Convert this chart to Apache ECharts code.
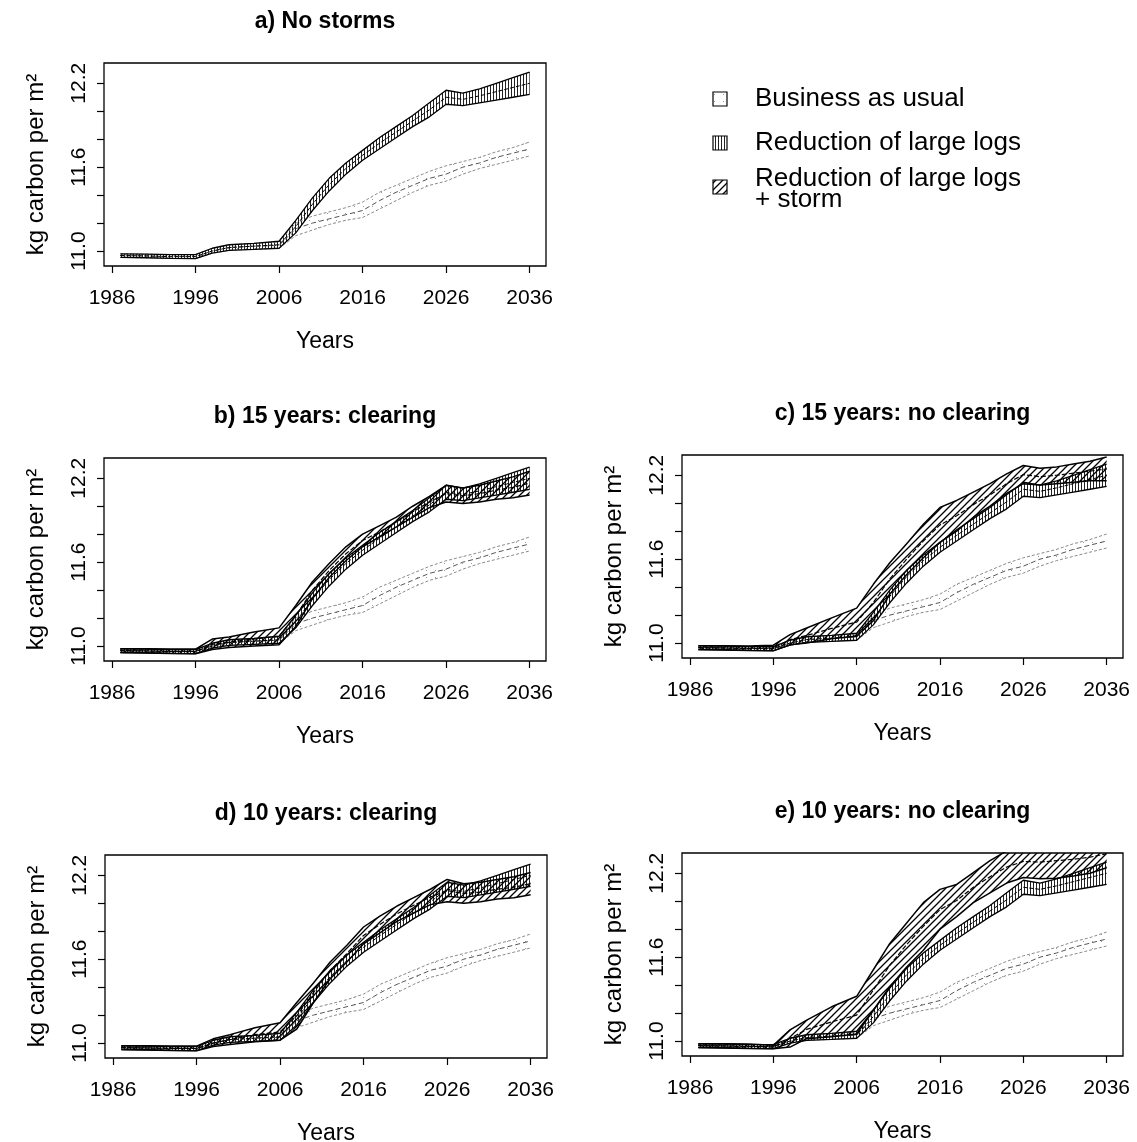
<!DOCTYPE html>
<html>
<head>
<meta charset="utf-8">
<script src="https://cdn.jsdelivr.net/npm/echarts@6/dist/echarts.min.js"></script>
<style>
  html, body { margin: 0; padding: 0; background: #fff; }
  #chart { width: 1137px; height: 1142px; }
</style>
</head>
<body>
<div id="chart"></div>
<script>
// Simulation years
const years = [1987, 1990, 1993, 1996, 1998, 2000, 2003, 2006, 2008, 2010, 2012, 2014, 2016, 2018, 2020, 2022, 2024, 2026, 2028, 2030, 2032, 2034, 2036];

// Business as usual (same in every panel)
const bauLow  = [10.955, 10.952, 10.948, 10.946, 10.985, 11.005, 11.012, 11.02, 11.11, 11.15, 11.19, 11.22, 11.24, 11.30, 11.36, 11.42, 11.47, 11.50, 11.55, 11.59, 11.62, 11.65, 11.68];
const bauHigh = [10.98, 10.978, 10.975, 10.975, 11.02, 11.045, 11.055, 11.065, 11.20, 11.25, 11.28, 11.31, 11.35, 11.42, 11.47, 11.52, 11.57, 11.61, 11.64, 11.67, 11.71, 11.74, 11.78];
const bauMid  = [10.968, 10.965, 10.96, 10.96, 11.0, 11.025, 11.035, 11.04, 11.16, 11.20, 11.23, 11.26, 11.29, 11.36, 11.42, 11.47, 11.52, 11.55, 11.60, 11.63, 11.67, 11.70, 11.73];

// Reduction of large logs, no storm
const rlLow  = [10.955, 10.952, 10.948, 10.946, 10.985, 11.005, 11.012, 11.02, 11.13, 11.29, 11.43, 11.55, 11.65, 11.73, 11.81, 11.89, 11.96, 12.05, 12.04, 12.06, 12.08, 12.10, 12.12];
const rlHigh = [10.98, 10.978, 10.975, 10.975, 11.02, 11.045, 11.055, 11.07, 11.22, 11.38, 11.52, 11.63, 11.72, 11.81, 11.89, 11.97, 12.06, 12.15, 12.13, 12.16, 12.20, 12.24, 12.28];
const rlMid  = [10.968, 10.965, 10.96, 10.96, 11.0, 11.025, 11.035, 11.045, 11.175, 11.335, 11.475, 11.59, 11.685, 11.77, 11.85, 11.93, 12.01, 12.10, 12.085, 12.11, 12.14, 12.17, 12.20];

// Reduction of large logs + storm, one set per storm scenario
const stormBLow  = [10.952, 10.95, 10.946, 10.944, 10.975, 10.99, 11.0, 11.01, 11.14, 11.34, 11.49, 11.61, 11.71, 11.78, 11.85, 11.92, 11.99, 12.03, 12.02, 12.03, 12.05, 12.06, 12.08];
const stormBHigh = [10.98, 10.98, 10.978, 10.978, 11.05, 11.065, 11.10, 11.13, 11.29, 11.46, 11.59, 11.71, 11.80, 11.86, 11.92, 12.00, 12.07, 12.15, 12.13, 12.15, 12.18, 12.21, 12.25];
const stormBMid  = [10.966, 10.965, 10.962, 10.961, 11.012, 11.028, 11.05, 11.07, 11.215, 11.40, 11.54, 11.66, 11.755, 11.815, 11.885, 11.96, 12.03, 12.09, 12.075, 12.09, 12.115, 12.135, 12.165];

const stormCLow  = [10.952, 10.95, 10.946, 10.944, 10.988, 11.0, 11.03, 11.05, 11.16, 11.35, 11.49, 11.61, 11.72, 11.80, 11.90, 11.98, 12.07, 12.14, 12.13, 12.14, 12.15, 12.16, 12.16];
const stormCHigh = [10.98, 10.98, 10.978, 10.985, 11.06, 11.108, 11.18, 11.25, 11.42, 11.576, 11.71, 11.85, 11.97, 12.02, 12.08, 12.14, 12.21, 12.27, 12.25, 12.26, 12.28, 12.30, 12.33];
const stormCMid  = [10.966, 10.965, 10.962, 10.964, 11.024, 11.054, 11.105, 11.15, 11.29, 11.46, 11.60, 11.73, 11.845, 11.91, 11.99, 12.06, 12.14, 12.205, 12.19, 12.20, 12.215, 12.23, 12.245];

const stormDLow  = [10.952, 10.95, 10.946, 10.944, 10.975, 10.99, 11.01, 11.02, 11.10, 11.29, 11.46, 11.58, 11.71, 11.79, 11.87, 11.93, 11.99, 12.01, 12.0, 12.01, 12.03, 12.04, 12.06];
const stormDHigh = [10.98, 10.98, 10.978, 10.978, 11.03, 11.06, 11.11, 11.145, 11.29, 11.43, 11.58, 11.70, 11.83, 11.91, 11.98, 12.04, 12.10, 12.17, 12.14, 12.15, 12.17, 12.19, 12.22];
const stormDMid  = [10.966, 10.965, 10.962, 10.961, 11.0, 11.025, 11.06, 11.08, 11.195, 11.36, 11.52, 11.64, 11.77, 11.85, 11.925, 11.985, 12.045, 12.09, 12.07, 12.08, 12.10, 12.115, 12.14];

const stormELow  = [10.952, 10.95, 10.946, 10.944, 10.957, 11.017, 11.03, 11.05, 11.22, 11.39, 11.53, 11.65, 11.80, 11.89, 11.99, 12.06, 12.13, 12.17, 12.16, 12.165, 12.18, 12.20, 12.24];
const stormEHigh = [10.98, 10.98, 10.978, 10.97, 11.08, 11.15, 11.245, 11.32, 11.51, 11.70, 11.845, 11.99, 12.085, 12.12, 12.205, 12.29, 12.36, 12.40, 12.40, 12.41, 12.42, 12.43, 12.44];
const stormEMid  = [10.966, 10.965, 10.962, 10.957, 11.018, 11.083, 11.137, 11.185, 11.365, 11.545, 11.69, 11.82, 11.94, 12.005, 12.10, 12.175, 12.245, 12.285, 12.28, 12.29, 12.30, 12.315, 12.34];

// Axis ticks and labels
const xTicks = [1986, 1996, 2006, 2016, 2026, 2036];
const yTicks = [11.0, 11.2, 11.4, 11.6, 11.8, 12.0, 12.2];
const yLabels = [11.0, 11.6, 12.2];

const panelTitles = ['a) No storms', 'b) 15 years: clearing', 'c) 15 years: no clearing', 'd) 10 years: clearing', 'e) 10 years: no clearing'];
const legendNames = ['Business as usual', 'Reduction of large logs', 'Reduction of large logs\n+ storm'];

const FONT = '"Liberation Sans", Arial, Helvetica, sans-serif';

// Hatching tiles used to fill the bands
function makeTile(kind) {
  const c = document.createElement('canvas');
  const ctx = c.getContext('2d');
  if (kind === 'vertical') {
    c.width = 3; c.height = 4;
    ctx.fillStyle = '#222';
    ctx.fillRect(1, 0, 1, 4);
  } else if (kind === 'diagonal') {
    const s = 7;
    c.width = s; c.height = s;
    ctx.strokeStyle = '#000';
    ctx.lineWidth = 1.3;
    ctx.beginPath();
    ctx.moveTo(0, s); ctx.lineTo(s, 0);
    ctx.moveTo(-1, 1); ctx.lineTo(1, -1);
    ctx.moveTo(s - 1, s + 1); ctx.lineTo(s + 1, s - 1);
    ctx.stroke();
  } else {
    c.width = 9; c.height = 7;
    ctx.fillStyle = '#9a9a9a';
    ctx.fillRect(3, 3, 1, 1);
  }
  return c;
}
const tiles = { bau: makeTile('dots'), rl: makeTile('vertical'), storm: makeTile('diagonal') };

// Plot boxes
const grids = [
  { left: 104, top: 63, width: 442, height: 203 },
  { left: 104, top: 458, width: 442, height: 203 },
  { left: 682, top: 455, width: 441, height: 203 },
  { left: 105, top: 855, width: 442, height: 203 },
  { left: 682, top: 853, width: 441, height: 203 }
];

const stormSets = [
  null,
  [stormBLow, stormBHigh, stormBMid],
  [stormCLow, stormCHigh, stormCMid],
  [stormDLow, stormDHigh, stormDMid],
  [stormELow, stormEHigh, stormEMid]
];

function bandSeries(idx, low, high, tile) {
  return {
    type: 'custom',
    xAxisIndex: idx, yAxisIndex: idx,
    clip: true, silent: true,
    data: years.map((y, i) => [y, low[i], high[i]]),
    renderItem: function (params, api) {
      if (params.dataIndex !== 0) return null;
      const pts = [];
      for (let i = 0; i < years.length; i++) pts.push(api.coord([years[i], high[i]]));
      for (let i = years.length - 1; i >= 0; i--) pts.push(api.coord([years[i], low[i]]));
      return { type: 'polygon', shape: { points: pts }, style: { fill: { image: tile, repeat: 'repeat' }, stroke: null } };
    }
  };
}

function lineSeries(idx, vals, color, width, type) {
  return {
    type: 'line', xAxisIndex: idx, yAxisIndex: idx,
    data: years.map((y, i) => [y, vals[i]]),
    symbol: 'none', silent: true, clip: true,
    lineStyle: { color: color, width: width, type: type },
    z: 3
  };
}

const xAxes = [], yAxes = [], series = [], graphics = [];

grids.forEach((g, idx) => {
  xAxes.push({
    gridIndex: idx, type: 'value', min: 1985.04, max: 2037.96,
    name: 'Years', nameLocation: 'middle', nameGap: 64,
    nameTextStyle: { fontFamily: FONT, fontSize: 23, color: '#000' },
    axisLine: { show: false },
    axisTick: { show: true, length: 7, customValues: xTicks, lineStyle: { color: '#000', width: 1.2 } },
    axisLabel: { customValues: xTicks, fontFamily: FONT, fontSize: 21, color: '#000', margin: 22, formatter: v => String(v) },
    splitLine: { show: false }
  });
  yAxes.push({
    gridIndex: idx, type: 'value', min: 10.893, max: 12.345,
    name: 'kg carbon per m²', nameLocation: 'middle', nameGap: 56, nameRotate: 90,
    nameTextStyle: { fontFamily: FONT, fontSize: 24, color: '#000' },
    axisLine: { show: false },
    axisTick: { show: true, length: 7, customValues: yTicks, lineStyle: { color: '#000', width: 1.2 } },
    axisLabel: { customValues: yLabels, rotate: 90, fontFamily: FONT, fontSize: 21, color: '#000', margin: 14, formatter: v => v.toFixed(1) },
    splitLine: { show: false }
  });

  // Business as usual
  series.push(bandSeries(idx, bauLow, bauHigh, tiles.bau));
  series.push(lineSeries(idx, bauLow, '#8a8a8a', 1, [3, 2]));
  series.push(lineSeries(idx, bauHigh, '#8a8a8a', 1, [3, 2]));
  series.push(lineSeries(idx, bauMid, '#555', 1, [5, 3]));

  // Reduction of large logs
  series.push(bandSeries(idx, rlLow, rlHigh, tiles.rl));
  series.push(lineSeries(idx, rlLow, '#000', 1.3, 'solid'));
  series.push(lineSeries(idx, rlHigh, '#000', 1.3, 'solid'));
  series.push(lineSeries(idx, rlMid, '#000', 1, [4, 2]));

  // Reduction of large logs + storm
  const st = stormSets[idx];
  if (st) {
    series.push(bandSeries(idx, st[0], st[1], tiles.storm));
    series.push(lineSeries(idx, st[0], '#000', 1.5, 'solid'));
    series.push(lineSeries(idx, st[1], '#000', 1.5, 'solid'));
    series.push(lineSeries(idx, st[2], '#000', 1.2, [5, 2]));
  }

  graphics.push({
    type: 'text', x: g.left + g.width / 2, y: g.top - 41,
    style: { text: panelTitles[idx], font: 'bold 23px ' + FONT, fill: '#000', textAlign: 'center', textVerticalAlign: 'middle' }
  });
});

// Legend
const legendRows = [
  { y: 99, tile: tiles.bau },
  { y: 143, tile: tiles.rl },
  { y: 187, tile: tiles.storm }
];
legendRows.forEach((r, i) => {
  graphics.push({
    type: 'rect', shape: { x: 713, y: r.y - 7, width: 14, height: 14 },
    style: { fill: { image: r.tile, repeat: 'repeat' }, stroke: '#000', lineWidth: 1.2 }
  });
  graphics.push({
    type: 'text', x: 755, y: r.y + (i === 2 ? 2 : 0),
    style: { text: legendNames[i], font: '26px ' + FONT, fill: '#000', textAlign: 'left', textVerticalAlign: 'middle', lineHeight: 21 }
  });
});

const chart = echarts.init(document.getElementById('chart'), null, { renderer: 'canvas' });
chart.setOption({
  backgroundColor: '#fff',
  animation: false,
  grid: grids.map(g => Object.assign({ show: true, borderColor: '#000', borderWidth: 1.3, backgroundColor: 'transparent', containLabel: false, outerBoundsMode: 'none' }, g)),
  xAxis: xAxes,
  yAxis: yAxes,
  series: series,
  graphic: graphics
});
</script>
</body>
</html>
